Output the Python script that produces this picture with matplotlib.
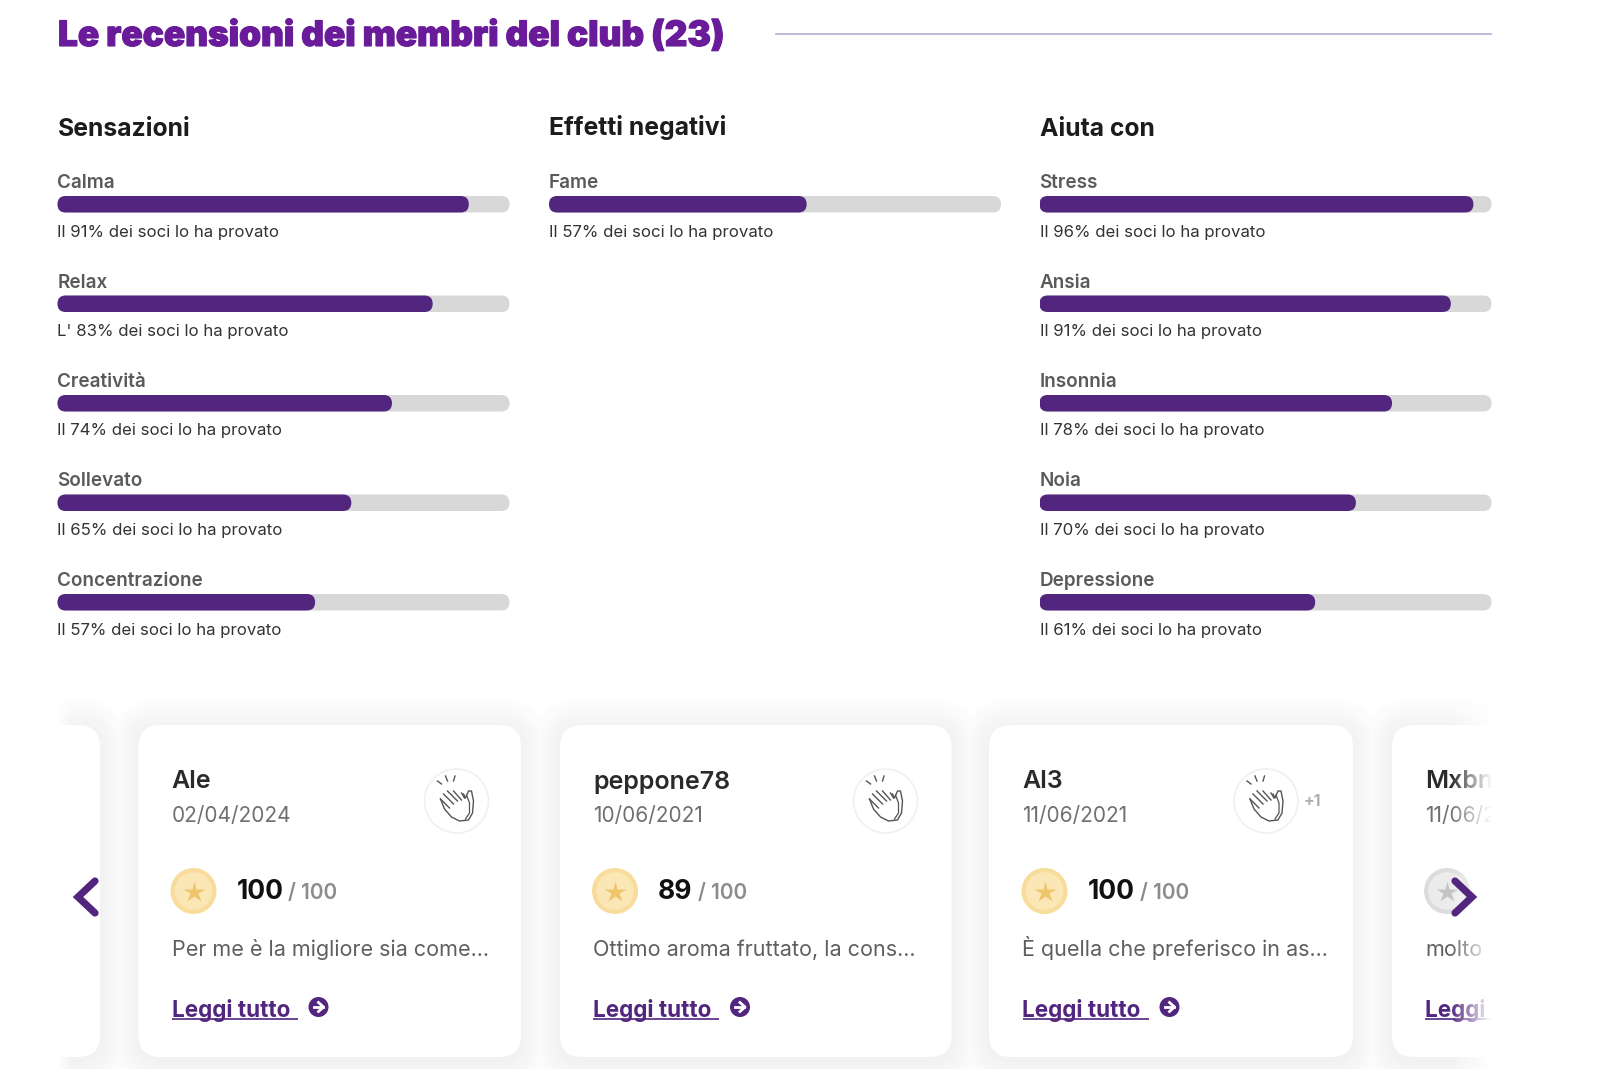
#!/usr/bin/env python3
"""Club member reviews: percentage bars and review cards."""

import numpy as np
import matplotlib.pyplot as plt
import matplotlib.patheffects as pe
from matplotlib.patches import Circle, FancyBboxPatch, Rectangle

TITLE = "Le recensioni dei membri del club (23)"

sensazioni_labels = ["Calma", "Relax", "Creatività", "Sollevato", "Concentrazione"]
sensazioni_values = [91, 83, 74, 65, 57]
negativi_labels = ["Fame"]
negativi_values = [57]
aiuta_labels = ["Stress", "Ansia", "Insonnia", "Noia", "Depressione"]
aiuta_values = [96, 91, 78, 70, 61]
column_titles = ["Sensazioni", "Effetti negativi", "Aiuta con"]

card_names = ["Ale", "peppone78", "Al3", "Mxbn"]
card_dates = ["02/04/2024", "10/06/2021", "11/06/2021", "11/06/2021"]
card_scores = [100, 89, 100, None]
card_texts = [
    "Per me è la migliore sia come...",
    "Ottimo aroma fruttato, la cons...",
    "È quella che preferisco in as...",
    "molto",
]

PURPLE = "#52267f"
TITLE_PURPLE = "#6a1b9a"
FONT = ["Inter", "DejaVu Sans"]
W, H = 1600, 1069

plt.rcParams["font.family"] = FONT

fig = plt.figure(figsize=(W / 100, H / 100), dpi=100)
bg = fig.add_axes([0, 0, 1, 1])
bg.set_xlim(0, W)
bg.set_ylim(H, 0)
bg.axis("off")


def draw_column(x0, x1, title, labels, values):
    # x axis is the percentage, y axis stays in pixels
    y_top, y_bot = 100, 680
    ax = fig.add_axes([x0 / W, 1 - y_bot / H, (x1 - x0) / W, (y_bot - y_top) / H])
    ax.set_xlim(0, 100)
    ax.set_ylim(y_bot, y_top)
    ax.axis("off")
    ax.patch.set_alpha(0)
    px = (x1 - x0) / 100
    ax.text(0, 135.5, title, fontsize=17.8, fontweight="bold", color="#1c1c1c", va="baseline")
    for i, (label, value) in enumerate(zip(labels, values)):
        y = 196 + i * 99.5
        ax.text(0, y - 13, label, fontsize=13.6, fontweight="semibold", color="#5a5a5a", va="center")
        for width, colour in ((100, "#d8d8d8"), (value, PURPLE)):
            ax.add_patch(
                FancyBboxPatch(
                    (0, y), width, 16.5,
                    boxstyle=f"round,pad=0,rounding_size={8.2 / px}",
                    mutation_aspect=px, fc=colour, ec="none",
                )
            )
        art = "L'" if value == 83 else "Il"
        ax.text(0, y + 36, f"{art} {value}% dei soci lo ha provato", fontsize=12.1, color="#333333", va="center")


def draw_shadows(cards, y0=725, y1=1057):
    # opaque grey steps, outermost first, so neighbouring cards merge cleanly
    pads = np.arange(30, 0, -2)
    greys = np.linspace(254, 242, len(pads)) / 255
    for pad, grey in zip(pads, greys):
        for x0, x1 in cards:
            bg.add_patch(
                FancyBboxPatch(
                    (x0 - pad, y0 - pad + 3), x1 - x0 + 2 * pad, y1 - y0 + 2 * pad,
                    boxstyle=f"round,pad=0,rounding_size={22 + pad}",
                    fc=(grey, grey, grey), ec="none", zorder=1,
                )
            )
    for x0, x1 in cards:
        bg.add_patch(
            FancyBboxPatch(
                (x0, y0), x1 - x0, y1 - y0, boxstyle="round,pad=0,rounding_size=22",
                fc="white", ec="none", zorder=2,
            )
        )


def draw_clap(cx, cy):
    bg.add_patch(Circle((cx, cy), 32, fc="white", ec="#f0f0f0", lw=1.2, zorder=3))
    col = "#555555"
    # sparks
    for x, y, dx, dy in [(-15, -17, -4, -3), (-9, -20, -2, -5), (-3, -20, 1.5, -5)]:
        bg.plot([cx + x, cx + x + dx], [cy + y, cy + y + dy], color=col, lw=1.0, zorder=4)
    # fingers
    for x, y, dx, dy in [
        (-7, 7, -9, -9), (-3, 3, -10, -10), (1, 0, -10, -10), (5, -1, -8, -9), (8, -3, -3, -5),
    ]:
        bg.plot([cx + x, cx + x + dx], [cy + y, cy + y + dy], color=col, lw=1.0, zorder=4)
    # hand outline
    xs = np.array([-16, -12, -5, 3, 12, 16, 17, 15, 12, 9, 7])
    ys = np.array([-2, 8, 16, 20, 19, 12, 0, -10, -10, -3, -7])
    bg.plot(cx + xs, cy + ys, color=col, lw=1.0, zorder=4)
    bg.plot(cx + np.array([10, 13, 13, 9]), cy + np.array([-6, 2, 12, 18]), color=col, lw=0.9, zorder=4)


def draw_coin(cx, cy, outer, ring, star):
    bg.add_patch(Circle((cx, cy), 23, fc=outer, ec="none", zorder=3))
    bg.add_patch(Circle((cx, cy), 19.5, fc=ring, ec=outer, lw=1, zorder=3))
    bg.plot([cx], [cy + 1], marker="*", ms=16, color=star, mec="none", zorder=4)


def draw_card_content(x, name, date, score, snippet, clap_x=None):
    bg.text(x, 788.5, name, fontsize=18, fontweight="semibold", color="#2a2a2a", va="baseline", zorder=5)
    bg.text(x, 822, date, fontsize=15, color="#707070", va="baseline", zorder=5)
    if score is None:
        draw_coin(x + 22, 891, "#dcdcdc", "#ececec", "#c4c4c4")
    else:
        draw_coin(x + 22, 891, "#f8dc9b", "#fbe6b6", "#edc66c")
        t = bg.text(x + 65, 892, str(score), fontsize=19, fontweight="bold", color="#111111", va="center", zorder=5)
        ext = t.get_window_extent(fig.canvas.get_renderer())
        bg.text(ext.x1 + 5, 893, "/ 100", fontsize=15, fontweight="semibold", color="#8c8c8c", va="center", zorder=5)
    bg.text(x, 956, snippet, fontsize=15.5, color="#5f5f5f", va="baseline", zorder=5)
    bg.text(x, 1010, "Leggi tutto", fontsize=16.2, fontweight="bold", color=PURPLE, va="center", zorder=5)
    bg.plot([x, x + 126], [1019, 1019], color=PURPLE, lw=1.2, zorder=5, solid_capstyle="butt")
    bg.add_patch(Circle((x + 147, 1007), 10, fc=PURPLE, ec="none", zorder=5))
    bg.plot([x + 142, x + 151], [1007, 1007], color="white", lw=2, zorder=6)
    bg.plot([x + 147, x + 152, x + 147], [1002.5, 1007, 1011.5], color="white", lw=2, zorder=6)
    if clap_x is not None:
        draw_clap(clap_x, 801)


# header
bg.text(
    58, 36, TITLE, fontsize=25.3, fontweight="black", color=TITLE_PURPLE, va="center",
    path_effects=[pe.withStroke(linewidth=0.8, foreground=TITLE_PURPLE)],
)
bg.plot([776, 1491], [34, 34], color="#b7add3", lw=1.2)

# bar columns
draw_column(57.5, 509.5, column_titles[0], sensazioni_labels, sensazioni_values)
draw_column(549, 1001, column_titles[1], negativi_labels, negativi_values)
draw_column(1039.5, 1491.5, column_titles[2], aiuta_labels, aiuta_values)

# cards
draw_shadows([(-40, 100), (138.5, 521), (560, 951.5), (989, 1353), (1392, 1700)])

text_x = [171.5, 593, 1022.5, 1425]
clap_x = [456.5, 885.5, 1266, None]
for x, name, date, score, snippet, cl in zip(text_x, card_names, card_dates, card_scores, card_texts, clap_x):
    draw_card_content(x, name, date, score, snippet, cl)
bg.text(1304, 801, "+1", fontsize=11.5, fontweight="bold", color="#b0b0b0", va="center", zorder=5)

# carousel edges: hide overflow and fade to white
bg.add_patch(Rectangle((0, 690), 58, 379, fc="white", ec="none", zorder=7))
bg.add_patch(Rectangle((1492, 690), 108, 379, fc="white", ec="none", zorder=7))
fade = np.ones((1, 64, 4))
fade[0, :, 3] = np.linspace(0, 1, 64)
bg.imshow(fade, extent=(1450, 1492, 1069, 690), aspect="auto", zorder=7)
fade_left = np.ones((1, 64, 4))
fade_left[0, :, 3] = np.linspace(1, 0, 64)
bg.imshow(fade_left, extent=(58, 72, 1069, 690), aspect="auto", zorder=7)
bg.set_xlim(0, W)
bg.set_ylim(H, 0)

# carousel arrows
bg.plot([95, 78, 95], [881, 897, 913], color=PURPLE, lw=5.2, zorder=8, solid_capstyle="round", solid_joinstyle="miter")
bg.plot([1455, 1472, 1455], [881, 897, 913], color=PURPLE, lw=5.2, zorder=8, solid_capstyle="round", solid_joinstyle="miter")

fig.savefig("out.png", dpi=100)
